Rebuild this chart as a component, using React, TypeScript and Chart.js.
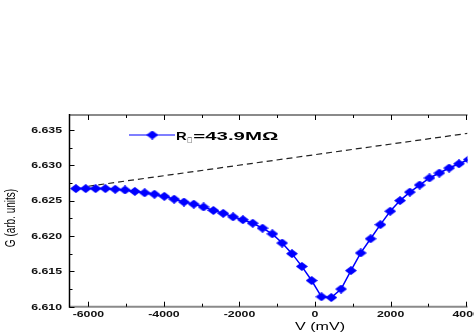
import { useEffect, useRef } from 'react';
import { Chart, registerables } from 'chart.js';

Chart.register(...registerables);

// ---- data ----
const voltages = [
  -6330, -6070, -5810, -5550, -5290, -5030, -4770, -4510, -4250, -3990,
  -3730, -3470, -3210, -2950, -2690, -2430, -2170, -1910, -1650, -1390,
  -1130, -870, -610, -350, -90, 170, 430, 690, 950, 1210,
  1470, 1730, 1990, 2250, 2510, 2770, 3030, 3290, 3550, 3810, 4070,
];
const conductance = [
  6.6267, 6.6267, 6.6267, 6.6267, 6.6266, 6.6265, 6.6263, 6.6261, 6.6259, 6.6256,
  6.6252, 6.6248, 6.6245, 6.6241, 6.6236, 6.6232, 6.6227, 6.6223, 6.6218, 6.6211,
  6.6203, 6.6190, 6.6175, 6.6157, 6.6137, 6.6114, 6.6113, 6.6125, 6.6151, 6.6176,
  6.6196, 6.6216, 6.6235, 6.6250, 6.6262, 6.6272, 6.6282, 6.6289, 6.6296, 6.6302, 6.6308,
];
const baselineV = [-6000, 4036];
const baselineG = [6.62703, 6.6345];

const xMajorTicks = [-6000, -4000, -2000, 0, 2000, 4000];
const xMinorTicks = [-5000, -3000, -1000, 1000, 3000];
const yMajorTicks = [6.61, 6.615, 6.62, 6.625, 6.63, 6.635];
const yMinorTicks = [6.6125, 6.6175, 6.6225, 6.6275, 6.6325];

const xRange = [-6500, 4036];
const yRange = [6.61, 6.6371];

const legendMain = 'R';
const legendSub = '\u25A1';
const legendRest = '=43.9M\u03A9';
const xTitle = 'V (mV)';
const yTitle = 'G (arb. units)';

const FONT = '"Liberation Sans", Arial, sans-serif';

function makeDiamond(w: number, h: number, color: string) {
  const c = document.createElement('canvas');
  c.width = w;
  c.height = h;
  const g = c.getContext('2d')!;
  g.fillStyle = color;
  g.beginPath();
  g.moveTo(0, h / 2);
  g.lineTo(w / 2, 0);
  g.lineTo(w, h / 2);
  g.lineTo(w / 2, h);
  g.closePath();
  g.fill();
  return c;
}

function stretchedText(
  ctx: CanvasRenderingContext2D,
  text: string,
  x: number,
  y: number,
  font: string,
  sx: number,
  align: CanvasTextAlign,
  baseline: CanvasTextBaseline = 'middle',
) {
  ctx.save();
  ctx.font = font;
  ctx.translate(x, y);
  ctx.scale(sx, 1);
  ctx.textAlign = align;
  ctx.textBaseline = baseline;
  ctx.fillText(text, 0, 0);
  ctx.restore();
}

function fittedText(
  ctx: CanvasRenderingContext2D,
  text: string,
  x: number,
  y: number,
  font: string,
  width: number,
) {
  ctx.save();
  ctx.font = font;
  const w = ctx.measureText(text).width;
  ctx.translate(x, y);
  ctx.scale(width / w, 1);
  ctx.textAlign = 'left';
  ctx.textBaseline = 'alphabetic';
  ctx.fillText(text, 0, 0);
  ctx.restore();
}

export default function App() {
  const ref = useRef<HTMLCanvasElement>(null);

  useEffect(() => {
    const canvas = ref.current;
    if (!canvas) return;
    const diamond = makeDiamond(12, 9, '#0000ff');

    const framePlugin = {
      id: 'frame',
      afterDraw(chart: any) {
        const ctx: CanvasRenderingContext2D = chart.ctx;
        const a = chart.chartArea;
        const xs = chart.scales.x;
        const ys = chart.scales.y;
        ctx.save();
        // frame
        ctx.lineCap = 'butt';
        ctx.strokeStyle = '#8a8a8a';
        ctx.lineWidth = 2;
        ctx.beginPath();
        ctx.moveTo(a.left, a.top);
        ctx.lineTo(a.right, a.top);
        ctx.moveTo(a.left, a.bottom);
        ctx.lineTo(a.right, a.bottom);
        ctx.stroke();
        ctx.strokeStyle = '#000';
        ctx.lineWidth = 1.5;
        ctx.beginPath();
        ctx.moveTo(a.left, a.top - 1);
        ctx.lineTo(a.left, a.bottom + 1);
        ctx.stroke();

        // ticks
        ctx.strokeStyle = '#000';
        ctx.lineWidth = 1;
        ctx.beginPath();
        for (const v of yMajorTicks) {
          const y = Math.round(ys.getPixelForValue(v)) + 0.5;
          ctx.moveTo(a.left, y);
          ctx.lineTo(a.left + 5, y);
        }
        for (const v of yMinorTicks) {
          const y = Math.round(ys.getPixelForValue(v)) + 0.5;
          ctx.moveTo(a.left, y);
          ctx.lineTo(a.left + 3, y);
        }
        for (const v of xMajorTicks) {
          const x = Math.round(xs.getPixelForValue(v)) + 0.5;
          ctx.moveTo(x, a.bottom);
          ctx.lineTo(x, a.bottom - 5);
          ctx.moveTo(x, a.top);
          ctx.lineTo(x, a.top + 5);
        }
        for (const v of xMinorTicks) {
          const x = Math.round(xs.getPixelForValue(v)) + 0.5;
          ctx.moveTo(x, a.bottom);
          ctx.lineTo(x, a.bottom - 3);
          ctx.moveTo(x, a.top);
          ctx.lineTo(x, a.top + 3);
        }
        ctx.stroke();

        // tick labels
        ctx.fillStyle = '#111';
        const tickFont = `bold 8.5px ${FONT}`;
        for (const v of yMajorTicks) {
          stretchedText(ctx, v.toFixed(3), a.left - 7.5, ys.getPixelForValue(v) + 0.5, tickFont, 1.45, 'right');
        }
        for (const v of xMajorTicks) {
          stretchedText(ctx, String(v), xs.getPixelForValue(v), a.bottom + 8, tickFont, 1.45, 'center');
        }

        // axis titles
        ctx.fillStyle = '#000';
        stretchedText(ctx, xTitle, 320, 326.5, `11px ${FONT}`, 1.46, 'center');
        ctx.save();
        ctx.translate(11, 218);
        ctx.scale(1.4, 1);
        ctx.rotate(-Math.PI / 2);
        ctx.font = `10px ${FONT}`;
        ctx.textAlign = 'center';
        ctx.textBaseline = 'middle';
        ctx.fillText(yTitle, 0, 0);
        ctx.restore();

        // legend
        ctx.strokeStyle = '#5555ff';
        ctx.lineWidth = 1.5;
        ctx.beginPath();
        ctx.moveTo(129, 135);
        ctx.lineTo(175, 135);
        ctx.stroke();
        ctx.drawImage(diamond, 152.3 - 6, 135 - 4.5);
        ctx.fillStyle = '#000';
        fittedText(ctx, legendMain, 176, 140.3, `bold 11.5px ${FONT}`, 10.7);
        fittedText(ctx, legendSub, 187.3, 142, `7px "DejaVu Sans"`, 5);
        fittedText(ctx, legendRest, 193.3, 140.3, `bold 11.5px ${FONT}`, 85);
        ctx.restore();
      },
    };

    const chart = new Chart(canvas, {
      type: 'line',
      data: {
        datasets: [
          {
            label: legendMain + legendSub + legendRest,
            data: voltages.map((v, i) => ({ x: v, y: conductance[i] })),
            borderColor: '#0000ff',
            backgroundColor: '#0000ff',
            borderWidth: 1.5,
            pointStyle: diamond as any,
            pointRadius: 5,
            tension: 0,
          },
          {
            label: 'baseline',
            data: baselineV.map((v, i) => ({ x: v, y: baselineG[i] })),
            borderColor: '#222',
            borderWidth: 1.2,
            borderDash: [6, 4],
            pointRadius: 0,
            tension: 0,
          },
        ],
      },
      options: {
        animation: false,
        responsive: false,
        devicePixelRatio: 1,
        layout: { padding: { left: 69.5, top: 115, right: 0, bottom: 334 - 306.7 } },
        plugins: { legend: { display: false }, tooltip: { enabled: false } },
        scales: {
          x: { type: 'linear', min: xRange[0], max: xRange[1], display: false },
          y: { type: 'linear', min: yRange[0], max: yRange[1], display: false },
        },
      },
      plugins: [framePlugin],
    });
    return () => chart.destroy();
  }, []);

  return (
    <div style={{ position: 'fixed', left: 0, top: 0, width: 474, height: 334, background: '#fff' }}>
      <canvas ref={ref} width={474} height={334} style={{ display: 'block' }} />
    </div>
  );
}
